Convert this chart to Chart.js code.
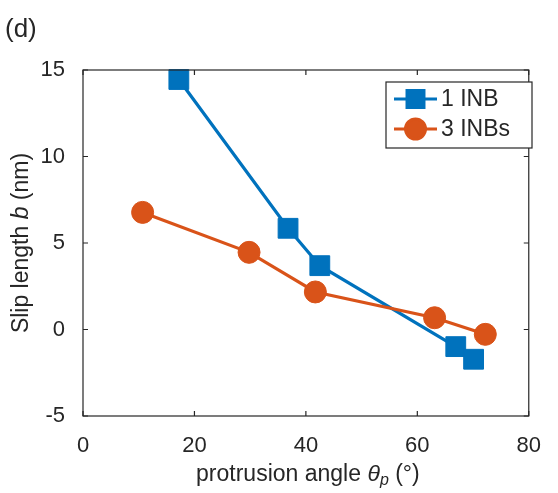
<!DOCTYPE html>
<html><head><meta charset="utf-8">
<script src="https://cdn.jsdelivr.net/npm/chart.js@4/dist/chart.umd.min.js"></script>
<style>html,body{margin:0;padding:0;background:#fff;} #wrap{width:558px;height:493px;position:relative;}</style>
</head><body><div id="wrap"><canvas id="c" width="558" height="493"></canvas></div>
<script>
// Data
const inb1X = [17.2, 36.8, 42.5, 66.9, 70.1];
const inb1Y = [14.45, 5.85, 3.69, -0.99, -1.72];
const inb3X = [10.7, 29.8, 41.7, 63.1, 72.2];
const inb3Y = [6.77, 4.46, 2.17, 0.68, -0.28];
const xTicks = [0, 20, 40, 60, 80];
const yTicks = [-5, 0, 5, 10, 15];
const seriesNames = ['1 INB', '3 INBs'];
const panelLabel = '(d)';

const BLUE = '#0072BD', ORANGE = '#D95319', INK = '#262626';
const FONT = "'Liberation Sans', Arial, sans-serif";

const pts = (xs, ys) => xs.map((x, i) => ({x, y: ys[i]}));

const decor = {
  id: 'decor',
  afterDatasetsDraw(chart) {
    const ctx = chart.ctx, a = chart.chartArea, xs = chart.scales.x, ys = chart.scales.y;
    ctx.save();
    // box
    ctx.strokeStyle = INK; ctx.lineWidth = 1.2;
    ctx.strokeRect(a.left, a.top, a.right - a.left, a.bottom - a.top);
    // inward ticks
    ctx.beginPath();
    xTicks.forEach(v => {
      const px = xs.getPixelForValue(v);
      ctx.moveTo(px, a.bottom); ctx.lineTo(px, a.bottom - 5);
      ctx.moveTo(px, a.top); ctx.lineTo(px, a.top + 5);
    });
    yTicks.forEach(v => {
      const py = ys.getPixelForValue(v);
      ctx.moveTo(a.left, py); ctx.lineTo(a.left + 5, py);
      ctx.moveTo(a.right, py); ctx.lineTo(a.right - 5, py);
    });
    ctx.stroke();

    // legend
    const lx = 386, ly = 82, lw = 146, lh = 66;
    ctx.fillStyle = '#fff';
    ctx.fillRect(lx, ly, lw, lh);
    ctx.strokeRect(lx, ly, lw, lh);
    const rows = [99, 129];
    const legR = [12, 10];
    chart.data.datasets.forEach((ds, i) => {
      const y = rows[i];
      ctx.strokeStyle = ds.borderColor; ctx.lineWidth = 3;
      ctx.beginPath(); ctx.moveTo(394, y); ctx.lineTo(437, y); ctx.stroke();
      ctx.fillStyle = ds.pointBackgroundColor;
      ctx.strokeStyle = ds.pointBackgroundColor;
      Chart.helpers.drawPoint(ctx, {pointStyle: ds.pointStyle, radius: legR[i], borderWidth: 1, rotation: 0}, 415.5, y);
      ctx.fillStyle = INK;
      ctx.font = '23px ' + FONT;
      ctx.textAlign = 'left'; ctx.textBaseline = 'middle';
      ctx.fillText(ds.label, 441, y + 1);
    });
    ctx.restore();
  },
  afterDraw(chart) {
    const ctx = chart.ctx, a = chart.chartArea;
    ctx.save();
    ctx.fillStyle = INK;
    ctx.textBaseline = 'alphabetic';
    // panel label
    ctx.font = '26px ' + FONT;
    ctx.textAlign = 'left';
    ctx.fillText(panelLabel, 5, 37);

    const drawParts = (parts, cx, cy) => {
      let total = 0;
      parts.forEach(p => { ctx.font = p.f; p.w = ctx.measureText(p.t).width; total += p.w; });
      let x = cx - total / 2;
      parts.forEach(p => { ctx.font = p.f; ctx.fillText(p.t, x, cy + (p.dy || 0)); x += p.w; });
    };
    ctx.textAlign = 'left';
    // x title
    drawParts([
      {t: 'protrusion angle ', f: '23px ' + FONT},
      {t: 'θ', f: 'italic 23px ' + FONT},
      {t: 'p', f: 'italic 16px ' + FONT, dy: 4},
      {t: ' (°)', f: '23px ' + FONT}
    ], (a.left + a.right) / 2 + 2, 481);
    // y title
    ctx.translate(28, (a.top + a.bottom) / 2);
    ctx.rotate(-Math.PI / 2);
    drawParts([
      {t: 'Slip length ', f: '23px ' + FONT},
      {t: 'b', f: 'italic 23px ' + FONT},
      {t: ' (nm)', f: '23px ' + FONT}
    ], 0, 0);
    ctx.restore();
  }
};

new Chart(document.getElementById('c'), {
  type: 'line',
  data: {
    datasets: [
      {label: seriesNames[0], data: pts(inb1X, inb1Y), borderColor: BLUE, backgroundColor: BLUE,
       pointBackgroundColor: BLUE, pointBorderColor: BLUE, pointStyle: 'rect', pointRadius: 14,
       pointBorderWidth: 1, borderWidth: 3.2, order: 1, clip: false},
      {label: seriesNames[1], data: pts(inb3X, inb3Y), borderColor: ORANGE, backgroundColor: ORANGE,
       pointBackgroundColor: ORANGE, pointBorderColor: ORANGE, pointStyle: 'circle', pointRadius: 11,
       pointBorderWidth: 1, borderWidth: 3.2, order: 0, clip: false}
    ]
  },
  options: {
    responsive: false, animation: false, devicePixelRatio: 1,
    layout: {padding: {top: 70, right: 11, left: 0, bottom: 0}},
    plugins: {legend: {display: false}, tooltip: {enabled: false}},
    elements: {line: {tension: 0}},
    scales: {
      x: {
        type: 'linear', min: 0, max: 80,
        afterFit: s => { s.height = 77; },
        afterBuildTicks: s => { s.ticks = xTicks.map(v => ({value: v})); },
        grid: {display: false, drawTicks: false}, border: {display: false},
        ticks: {color: INK, font: {family: FONT, size: 22}, padding: 17, maxRotation: 0}
      },
      y: {
        type: 'linear', min: -5, max: 15,
        afterFit: s => { s.width = 83; },
        afterBuildTicks: s => { s.ticks = yTicks.map(v => ({value: v})); },
        grid: {display: false, drawTicks: false}, border: {display: false},
        ticks: {color: INK, font: {family: FONT, size: 22}, padding: 18}
      }
    }
  },
  plugins: [decor]
});
</script>
</body></html>
